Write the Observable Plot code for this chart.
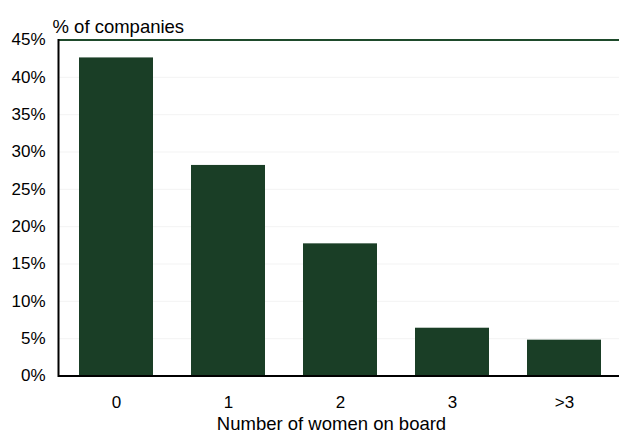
<!DOCTYPE html>
<html>
<head>
<meta charset="utf-8">
<script src="https://cdn.jsdelivr.net/npm/d3@7"></script>
<script src="https://cdn.jsdelivr.net/npm/@observablehq/plot@0.6"></script>
<style>
  html, body { margin: 0; padding: 0; background: #fff; }
  #chart svg { display: block; }
</style>
</head>
<body>
<div id="chart"></div>
<script>
const categories = ["0", "1", "2", "3", ">3"];
const shares = [42.6, 28.2, 17.7, 6.4, 4.8];
const yTicks = [0, 5, 10, 15, 20, 25, 30, 35, 40, 45];
const titleText = "% of companies";
const xLabelText = "Number of women on board";

const data = categories.map((c, i) => ({category: c, value: shares[i]}));
const font = "Liberation Sans, Arial, Helvetica, sans-serif";

const chart = Plot.plot({
  width: 619,
  height: 437,
  marginLeft: 58,
  marginRight: 0,
  marginTop: 39.5,
  marginBottom: 61.5,
  style: {fontFamily: font, fontSize: "17px", color: "#000", background: "#fff"},
  x: {domain: categories, range: [58, 621.7], paddingInner: 0.337, paddingOuter: 0.175, label: null},
  y: {domain: [0, 45], label: null},
  marks: [
    Plot.ruleY(yTicks.filter(d => d > 0 && d < 45), {stroke: "#f3f3f3", strokeWidth: 1}),
    Plot.barY(data, {x: "category", y: "value", fill: "#1a3e26"}),
    Plot.ruleY([45], {stroke: "#1e4a2b", strokeWidth: 2}),
    Plot.ruleY([0], {stroke: "#000", strokeWidth: 2}),
    Plot.frame({anchor: "left", stroke: "#000", strokeWidth: 2}),
    Plot.axisY({ticks: yTicks, tickSize: 0, tickPadding: 13, tickFormat: d => d + "%", label: null, fontSize: 17}),
    Plot.axisX({tickSize: 0, tickPadding: 19.5, label: null, fontSize: 17}),
    Plot.text([titleText], {frameAnchor: "top-left", text: d => d, textAnchor: "start", dx: -6, dy: -20.4, fontSize: 18.5, fill: "#000"}),
    Plot.text([xLabelText], {frameAnchor: "bottom", text: d => d, textAnchor: "middle", dx: -7.5, dy: 53.6, fontSize: 18.5, fill: "#000"})
  ]
});
document.getElementById("chart").appendChild(chart);
</script>
</body>
</html>
